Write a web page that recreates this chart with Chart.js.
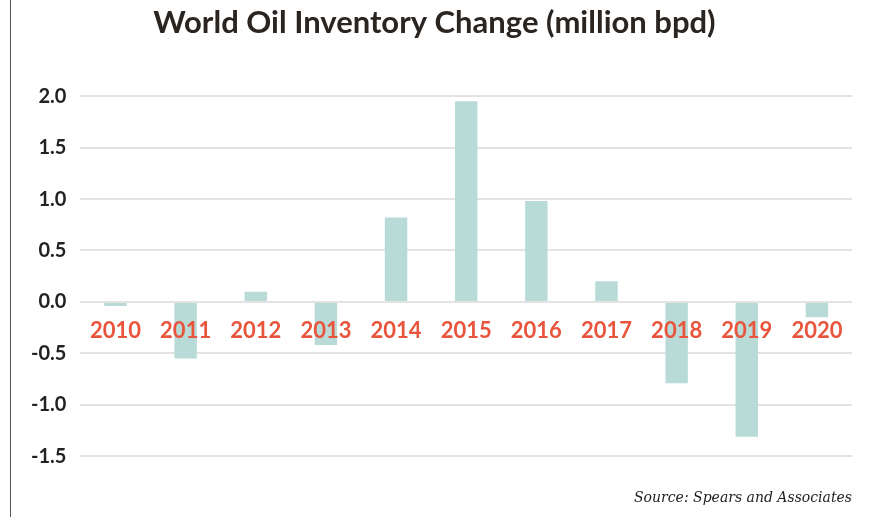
<!DOCTYPE html>
<html>
<head>
<meta charset="utf-8">
<script src="https://cdn.jsdelivr.net/npm/chart.js@4/dist/chart.umd.min.js"></script>
<style>
html,body{margin:0;padding:0;background:#fff;}
#wrap{position:relative;width:889px;height:517px;}
#edge{position:absolute;left:10px;top:0;width:1px;height:517px;background:#555;}
canvas{display:block;}
</style>
</head>
<body>
<div id="wrap"><div id="edge"></div><canvas id="c" width="889" height="517"></canvas></div>
<script>
const categories = ["2010","2011","2012","2013","2014","2015","2016","2017","2018","2019","2020"];
const inventoryChange = [-0.04,-0.55,0.10,-0.42,0.82,1.95,0.98,0.20,-0.79,-1.31,-0.15];
const yTicks = [2.0,1.5,1.0,0.5,0.0,-0.5,-1.0,-1.5];

const FONT = "Lato, 'Open Sans', sans-serif";

const yearLabels = {
  id: 'yearLabels',
  afterDatasetsDraw(chart) {
    const ctx = chart.ctx, xs = chart.scales.x, ys = chart.scales.y;
    ctx.save();
    ctx.font = "bold 22px " + FONT;
    ctx.fillStyle = "#e8553c";
    ctx.textAlign = "center";
    ctx.textBaseline = "middle";
    const y0 = ys.getPixelForValue(0);
    categories.forEach((c, i) => {
      ctx.fillText(c, xs.getPixelForValue(i), y0 + 29);
    });
    ctx.restore();
  }
};

new Chart(document.getElementById('c'), {
  type: 'bar',
  data: {
    labels: categories,
    datasets: [{
      data: inventoryChange,
      backgroundColor: '#b8dbd8',
      borderWidth: 0,
      barPercentage: 0.32,
      categoryPercentage: 1.0
    }]
  },
  options: {
    responsive: false,
    animation: false,
    devicePixelRatio: 1,
    layout: { padding: { left: 17, right: 37, top: 4, bottom: 10 } },
    plugins: {
      legend: { display: false },
      tooltip: { enabled: false },
      title: {
        display: true,
        text: 'World Oil Inventory Change (million bpd)',
        color: '#2b2522',
        font: { family: FONT, size: 31, weight: 'bold' },
        padding: { top: 0, bottom: 55 }
      },
      subtitle: {
        display: true,
        position: 'bottom',
        align: 'end',
        text: 'Source: Spears and Associates',
        color: '#222',
        font: { family: "'DejaVu Serif', serif", size: 14, style: 'italic' },
        padding: { top: 34, bottom: 0 }
      }
    },
    scales: {
      x: {
        display: false,
        grid: { display: false }
      },
      y: {
        min: -1.5,
        max: 2.0,
        afterBuildTicks(scale) { scale.ticks = yTicks.map(v => ({ value: v })); },
        border: { display: false },
        grid: { color: '#e3e3e3', lineWidth: 2, drawTicks: false },
        ticks: {
          color: '#222',
          padding: 14,
          font: { family: FONT, size: 20, weight: 'bold' },
          callback: (v) => Number(v).toFixed(1)
        }
      }
    }
  },
  plugins: [yearLabels]
});
</script>
</body>
</html>
